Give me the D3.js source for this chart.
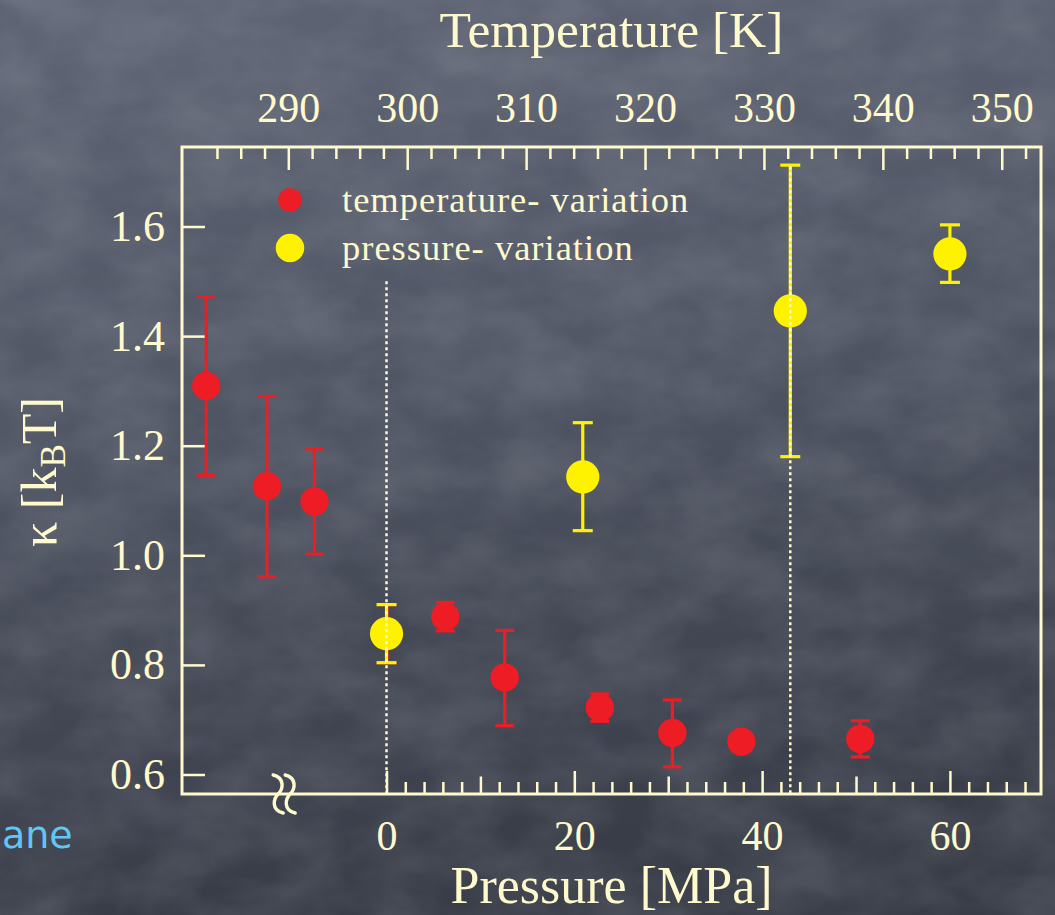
<!DOCTYPE html>
<html>
<head>
<meta charset="utf-8">
<script src="https://cdn.jsdelivr.net/npm/d3@7"></script>
<style>
  html, body { margin: 0; padding: 0; background: #4a4f5c; }
  svg { display: block; }
</style>
</head>
<body>
<div class="canvas"></div>
<script>
// tick labels
const tempTicks = [290, 300, 310, 320, 330, 340, 350];
const pressTicks = [0, 20, 40, 60];
const kappaTicks = [0.6, 0.8, 1.0, 1.2, 1.4, 1.6];

// temperature variation (red, top axis)
const tempK = [283.1, 288.2, 292.2, 298.3, 303.2, 308.2, 316.2, 322.3, 328.1, 338.1];
const tempKappa = [1.309, 1.126, 1.098, 0.856, 0.888, 0.777, 0.722, 0.676, 0.660, 0.665];
const tempLo = [1.146, 0.961, 1.002, 0.804, 0.862, 0.689, 0.697, 0.614, 0.648, 0.632];
const tempHi = [1.472, 1.290, 1.194, 0.910, 0.914, 0.863, 0.747, 0.736, 0.672, 0.698];

// pressure variation (yellow, bottom axis)
const pressMPa = [0, 20.9, 43.0, 60.0];
const pressKappa = [0.857, 1.143, 1.446, 1.550];
const pressLo = [0.804, 1.045, 1.180, 1.498];
const pressHi = [0.910, 1.242, 1.712, 1.603];

// dotted guide lines (pressure, top kappa)
const guideP = [0, 43.0];
const guideTop = [1.5, 1.71];

const legendLabels = ['temperature- variation', 'pressure- variation'];

const dims = {
  width: 1055,
  height: 915,
  marginLeft: 182,
  marginTop: 147,
  marginRight: 14,
  marginBottom: 121,
  serif: '"Liberation Serif", "Times New Roman", serif'
};

const cream = '#fffacd';
const red = '#ee1c25';
const yellow = '#fff200';

const graphWidth = dims.width - dims.marginLeft - dims.marginRight;
const graphHeight = dims.height - dims.marginTop - dims.marginBottom;

const svg = d3
  .select('.canvas')
  .append('svg')
  .attr('width', dims.width)
  .attr('height', dims.height);

// background - chalkboard look
const defs = svg.append('defs');
const grad = defs.append('linearGradient')
  .attr('id', 'bg')
  .attr('x1', 0).attr('y1', 0).attr('x2', 0.15).attr('y2', 1);
grad.append('stop').attr('offset', '0%').attr('stop-color', '#5e6474');
grad.append('stop').attr('offset', '45%').attr('stop-color', '#515665');
grad.append('stop').attr('offset', '100%').attr('stop-color', '#383c47');

const filt = defs.append('filter').attr('id', 'chalk').attr('x', 0).attr('y', 0).attr('width', 1).attr('height', 1);
filt.append('feTurbulence')
  .attr('type', 'fractalNoise')
  .attr('baseFrequency', '0.012 0.02')
  .attr('numOctaves', 4)
  .attr('seed', 7);
filt.append('feColorMatrix')
  .attr('type', 'matrix')
  .attr('values', '0 0 0 0 0.72  0 0 0 0 0.74  0 0 0 0 0.8  0 0 0 0.22 -0.06');

svg.append('rect')
  .attr('width', dims.width).attr('height', dims.height)
  .attr('fill', 'url(#bg)');
svg.append('rect')
  .attr('width', dims.width).attr('height', dims.height)
  .attr('filter', 'url(#chalk)');

const graph = svg
  .append('g')
  .attr('transform', `translate(${dims.marginLeft}, ${dims.marginTop})`);

// scales
const xT = d3.scaleLinear().domain([281.06, 353.3]).range([0, graphWidth]);
const xP = d3.scaleLinear().domain([-21.78, 69.7]).range([0, graphWidth]);
const y = d3.scaleLinear().domain([0.5644, 1.7451]).range([graphHeight, 0]);

const minorT = d3.range(284, 354, 2).filter((d) => d % 10 !== 0);
const minorP = d3.range(2, 70, 2).filter((d) => d % 10 !== 0);
const midP = [10, 30, 50];

// axes
const styleAxis = (g, fs) => {
  g.select('.domain').remove();
  g.selectAll('.tick line').attr('stroke', cream).attr('stroke-width', 2.5);
  g.selectAll('text')
    .attr('fill', cream)
    .attr('font-family', dims.serif)
    .attr('font-size', fs || 42);
};

graph.append('g')
  .call(d3.axisTop(xT).tickValues(minorT).tickSize(-12).tickFormat(''))
  .call(styleAxis);
graph.append('g')
  .call(d3.axisTop(xT).tickValues(tempTicks).tickSize(-23).tickPadding(25).tickFormat(d3.format('d')))
  .call(styleAxis, 42);

const bottom = graph.append('g').attr('transform', `translate(0, ${graphHeight})`);
bottom.append('g')
  .call(d3.axisBottom(xP).tickValues(minorP).tickSize(-12).tickFormat(''))
  .call(styleAxis);
bottom.append('g')
  .call(d3.axisBottom(xP).tickValues(midP).tickSize(-17.5).tickFormat(''))
  .call(styleAxis);
bottom.append('g')
  .call(d3.axisBottom(xP).tickValues(pressTicks).tickSize(-23).tickPadding(26).tickFormat(d3.format('d')))
  .call(styleAxis, 42);

graph.append('g')
  .call(d3.axisLeft(y).tickValues(kappaTicks).tickSize(-23).tickPadding(17).tickFormat(d3.format('.1f')))
  .call(styleAxis, 44);

// frame
graph.append('rect')
  .attr('width', graphWidth)
  .attr('height', graphHeight)
  .attr('fill', 'none')
  .attr('stroke', cream)
  .attr('stroke-width', 3);

// axis break mark on the pressure axis
const brk = graph.append('g')
  .attr('transform', `translate(${xP(-10.9)}, ${graphHeight})`);
[-6, 6].forEach((dx) => {
  brk.append('path')
    .attr('d', `M${dx - 5},-19 C${dx + 7},-16 ${dx + 5},-5 ${dx},0 S${dx - 7},16 ${dx + 5},19`)
    .attr('fill', 'none')
    .attr('stroke', cream)
    .attr('stroke-width', 3.4)
    .attr('stroke-linecap', 'round');
});

// data
const redData = tempK.map((t, i) => ({ x: xT(t), v: tempKappa[i], lo: tempLo[i], hi: tempHi[i] }));
const yelData = pressMPa.map((p, i) => ({ x: xP(p), v: pressKappa[i], lo: pressLo[i], hi: pressHi[i] }));

const drawSeries = (data, colour, r, cap) => {
  const g = graph.append('g');
  const bars = g.selectAll('g.err').data(data).enter().append('g').attr('class', 'err');
  bars.append('line')
    .attr('x1', (d) => d.x).attr('x2', (d) => d.x)
    .attr('y1', (d) => y(d.hi)).attr('y2', (d) => y(d.lo));
  bars.append('line')
    .attr('x1', (d) => d.x - cap).attr('x2', (d) => d.x + cap)
    .attr('y1', (d) => y(d.hi)).attr('y2', (d) => y(d.hi));
  bars.append('line')
    .attr('x1', (d) => d.x - cap).attr('x2', (d) => d.x + cap)
    .attr('y1', (d) => y(d.lo)).attr('y2', (d) => y(d.lo));
  bars.selectAll('line').attr('stroke', colour).attr('stroke-width', 3.2);
  g.selectAll('circle').data(data).enter().append('circle')
    .attr('cx', (d) => d.x)
    .attr('cy', (d) => y(d.v))
    .attr('r', r)
    .attr('fill', colour);
};

drawSeries(redData, red, 14.2, 9.5);
drawSeries(yelData, yellow, 16.6, 10);

// dotted guides (drawn over the points like in the original)
graph.selectAll('line.guide')
  .data(guideP)
  .enter()
  .append('line')
  .attr('class', 'guide')
  .attr('x1', (d) => xP(d)).attr('x2', (d) => xP(d))
  .attr('y1', (d, i) => y(guideTop[i]))
  .attr('y2', graphHeight)
  .attr('stroke', cream)
  .attr('stroke-width', 2.5)
  .attr('stroke-dasharray', '3,3');

// legend
const legend = graph.append('g').attr('transform', 'translate(108, 53)');
const legColours = [red, yellow];
const legR = [11.8, 14.3];
legendLabels.forEach((label, i) => {
  const row = legend.append('g').attr('transform', `translate(0, ${i * 48})`);
  row.append('circle').attr('r', legR[i]).attr('fill', legColours[i]);
  row.append('text')
    .attr('x', 52)
    .attr('y', 12)
    .attr('fill', cream)
    .attr('font-family', dims.serif)
    .attr('font-size', 36.5)
    .attr('letter-spacing', 1)
    .text(label);
});

// axis titles
svg.append('text')
  .attr('x', dims.marginLeft + graphWidth / 2)
  .attr('y', 47)
  .attr('text-anchor', 'middle')
  .attr('fill', cream)
  .attr('font-family', dims.serif)
  .attr('font-size', 51.5)
  .text('Temperature [K]');

svg.append('text')
  .attr('x', dims.marginLeft + graphWidth / 2)
  .attr('y', 903)
  .attr('text-anchor', 'middle')
  .attr('fill', cream)
  .attr('font-family', dims.serif)
  .attr('font-size', 52)
  .text('Pressure [MPa]');

const yTitle = svg.append('text')
  .attr('transform', 'translate(56, 472) rotate(-90)')
  .attr('text-anchor', 'middle')
  .attr('fill', cream)
  .attr('font-family', dims.serif)
  .attr('font-size', 50);
yTitle.append('tspan').text('κ [k');
yTitle.append('tspan').attr('font-size', 35).attr('dy', 9).text('B');
yTitle.append('tspan').attr('dy', -9).text('T]');

// leftover slide text at the edge
svg.append('text')
  .attr('x', 2)
  .attr('y', 848)
  .attr('fill', '#62c6f4')
  .attr('font-family', '"Comic Sans MS", "DejaVu Sans", sans-serif')
  .attr('font-size', 38)
  .text('ane');
</script>
</body>
</html>
